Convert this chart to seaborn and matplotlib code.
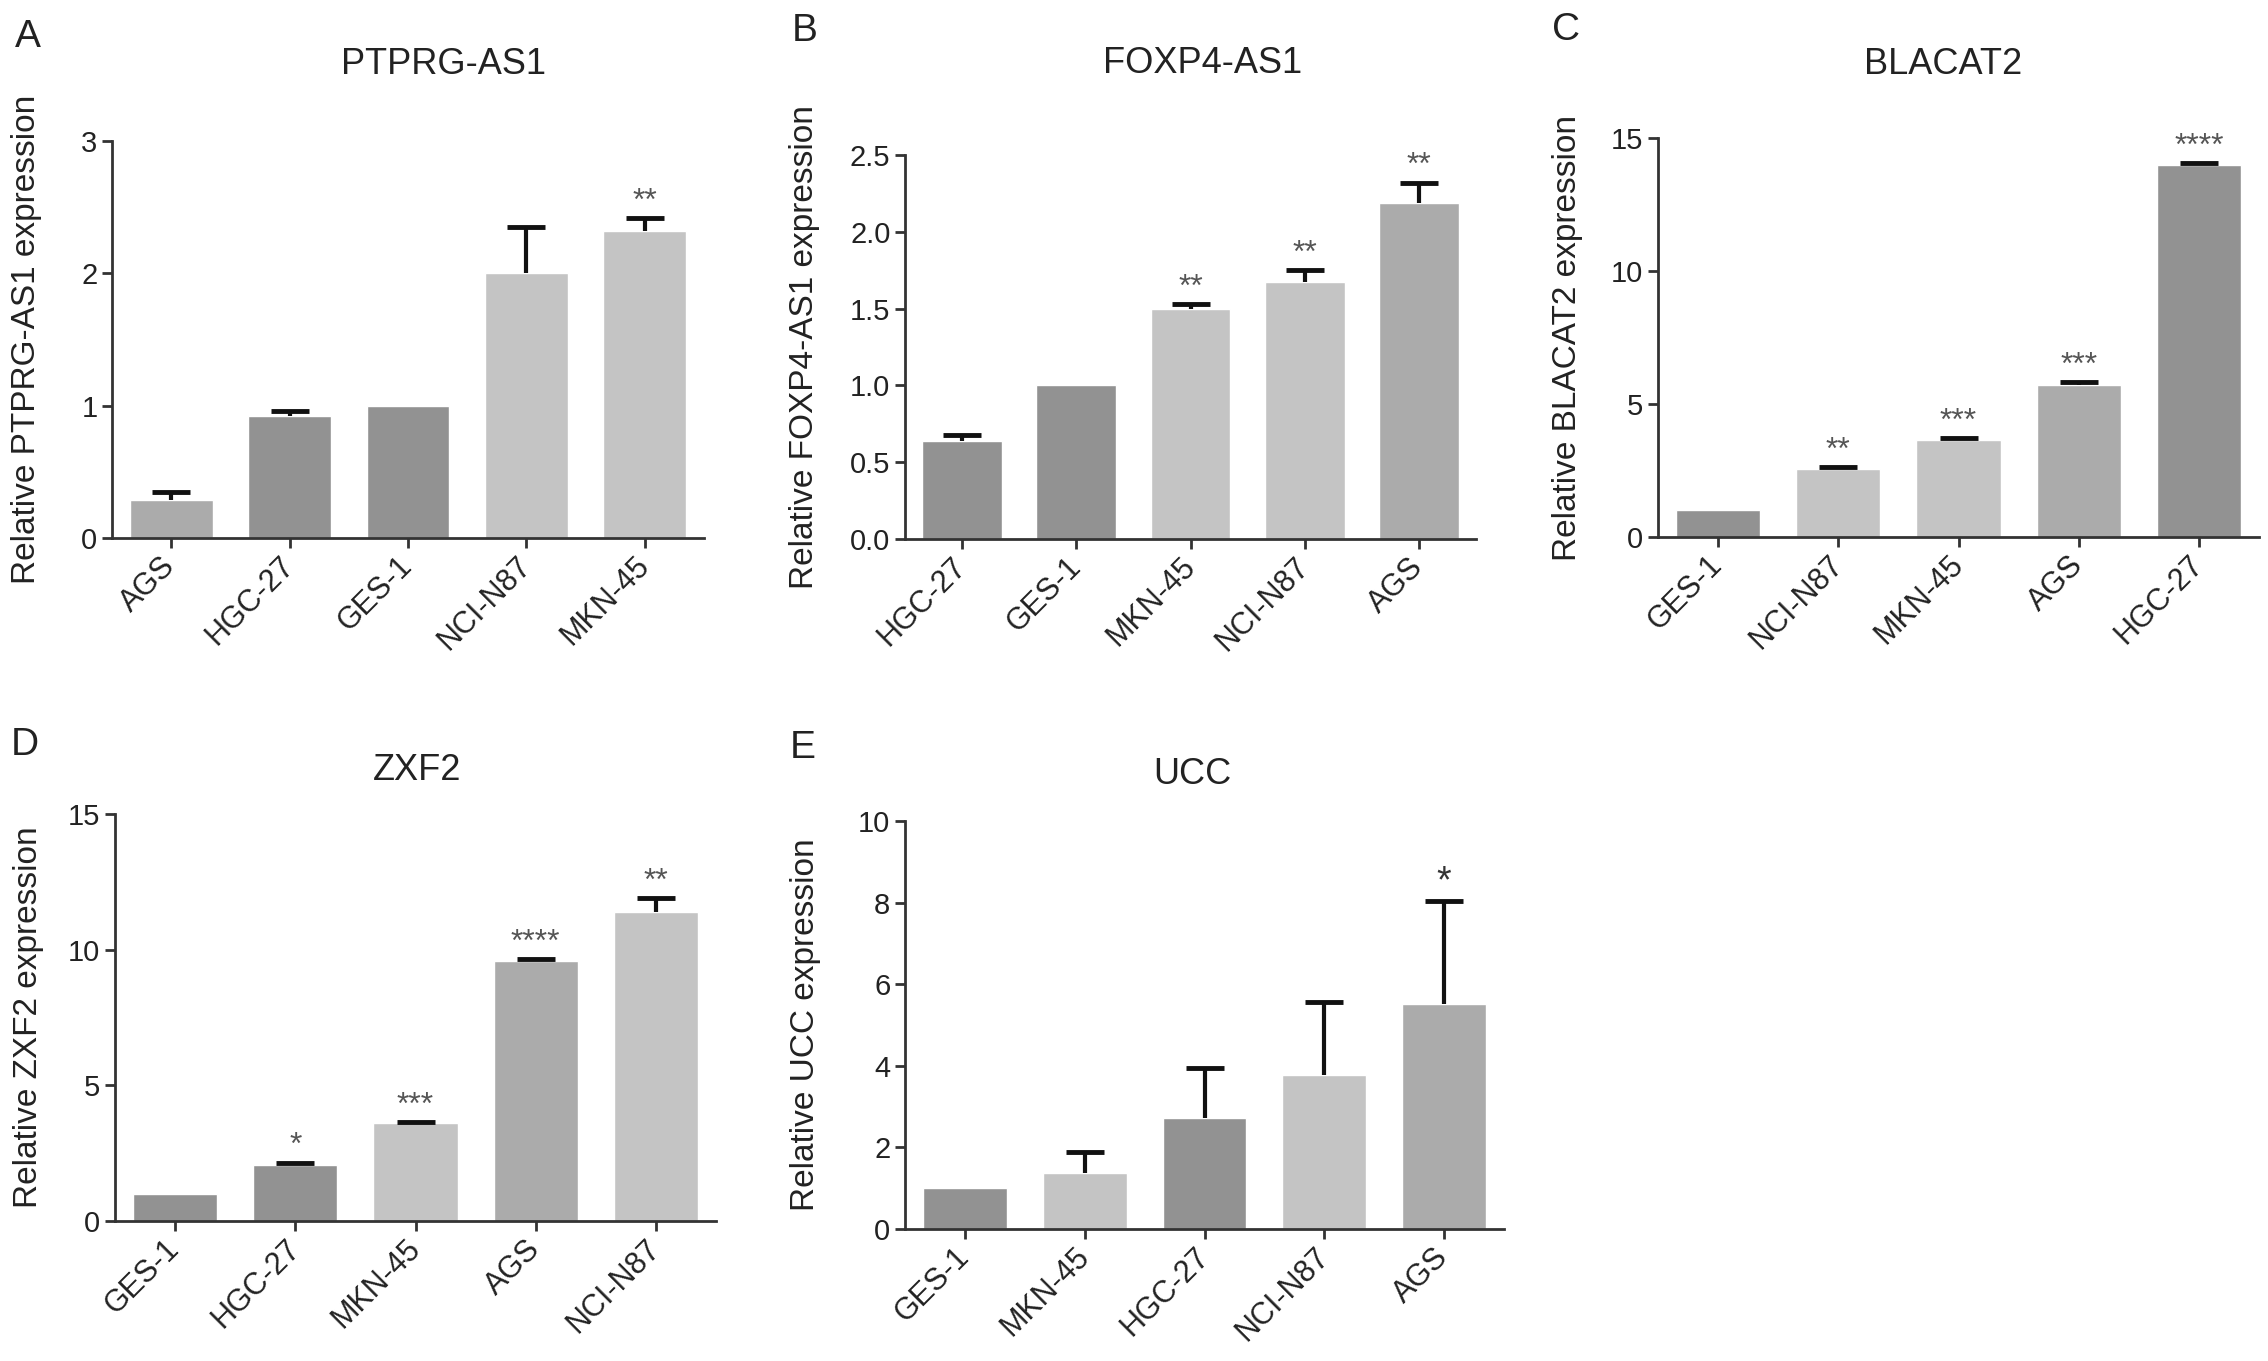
import numpy as np
import pandas as pd
import seaborn as sns
import matplotlib.pyplot as plt
from matplotlib.ticker import FormatStrFormatter

# values (mean, top of error bar, significance)
ptprg_cells = ["AGS", "HGC-27", "GES-1", "NCI-N87", "MKN-45"]
ptprg_mean = [0.29, 0.92, 1.00, 2.00, 2.32]
ptprg_top = [0.35, 0.96, 1.00, 2.35, 2.42]
ptprg_stars = ["", "", "", "", "**"]

foxp4_cells = ["HGC-27", "GES-1", "MKN-45", "NCI-N87", "AGS"]
foxp4_mean = [0.64, 1.00, 1.50, 1.67, 2.19]
foxp4_top = [0.68, 1.00, 1.53, 1.75, 2.32]
foxp4_stars = ["", "", "**", "**", "**"]

blacat_cells = ["GES-1", "NCI-N87", "MKN-45", "AGS", "HGC-27"]
blacat_mean = [1.00, 2.55, 3.65, 5.72, 14.00]
blacat_top = [1.00, 2.62, 3.72, 5.82, 14.05]
blacat_stars = ["", "**", "***", "***", "****"]

zxf2_cells = ["GES-1", "HGC-27", "MKN-45", "AGS", "NCI-N87"]
zxf2_mean = [1.00, 2.05, 3.60, 9.60, 11.40]
zxf2_top = [1.00, 2.15, 3.65, 9.65, 11.90]
zxf2_stars = ["", "*", "***", "****", "**"]

ucc_cells = ["GES-1", "MKN-45", "HGC-27", "NCI-N87", "AGS"]
ucc_mean = [1.00, 1.38, 2.72, 3.78, 5.52]
ucc_top = [1.00, 1.88, 3.95, 5.57, 8.05]
ucc_stars = ["", "", "", "", "*"]

cell_colors = {"GES-1": "#929292", "HGC-27": "#929292", "AGS": "#ababab",
               "MKN-45": "#c4c4c4", "NCI-N87": "#c4c4c4"}

W, H = 2268, 1361
sns.set_style("ticks")
plt.rcParams["font.family"] = ["Liberation Sans", "DejaVu Sans"]
plt.rcParams["text.color"] = "#222222"
plt.rcParams["axes.labelcolor"] = "#222222"
plt.rcParams["xtick.color"] = "#222222"
plt.rcParams["ytick.color"] = "#222222"

fig = plt.figure(figsize=(W / 100, H / 100), dpi=100)

panels = [
    # letter, title, cells, mean, top, stars, ymax, ystep, fmt, rect(px: l, r, b, t),
    # letter xy, title xy, ylabel right edge, star colour
    ("A", "PTPRG-AS1", ptprg_cells, ptprg_mean, ptprg_top, ptprg_stars, 3, 1, "%d",
     (112, 704, 538, 141), (28, 37), (443, 64), 42, "#555555"),
    ("B", "FOXP4-AS1", foxp4_cells, foxp4_mean, foxp4_top, foxp4_stars, 2.5, 0.5, "%.1f",
     (905, 1476, 539, 155), (805, 31), (1203, 64), 820, "#555555"),
    ("C", "BLACAT2", blacat_cells, blacat_mean, blacat_top, blacat_stars, 15, 5, "%d",
     (1658, 2259, 537, 138), (1566, 30), (1943, 64), 1583, "#555555"),
    ("D", "ZXF2", zxf2_cells, zxf2_mean, zxf2_top, zxf2_stars, 15, 5, "%d",
     (115, 716, 1221, 814), (25, 745), (417, 771), 44, "#555555"),
    ("E", "UCC", ucc_cells, ucc_mean, ucc_top, ucc_stars, 10, 2, "%d",
     (905, 1504, 1229, 821), (803, 748), (1192, 775), 821, "#333333"),
]

for (letter, title, cells, mean, top, stars, ymax, ystep, fmt,
     rect, letter_xy, title_xy, ylab_x, star_col) in panels:
    l, r, b, t = rect
    ax = fig.add_axes([l / W, 1 - b / H, (r - l) / W, (b - t) / H])
    df = pd.DataFrame({"cell": cells, "value": mean})
    sns.barplot(data=df, x="cell", y="value", hue="cell", palette=cell_colors,
                order=cells, width=0.7, errorbar=None, legend=False,
                saturation=1, ax=ax, zorder=2)

    # upper error bars only (GraphPad style), skipped where there is no spread
    pos = np.arange(len(cells))
    up = np.array(top) - np.array(mean)
    keep = up > 0
    _, caps, _ = ax.errorbar(pos[keep], np.array(mean)[keep],
                             yerr=[np.zeros(keep.sum()), up[keep]], fmt="none",
                             ecolor="#111111", elinewidth=3, capsize=14,
                             capthick=3.5, zorder=3)
    caps[0].set_visible(False)

    star_size = 27 if letter == "E" else 23
    for x, y, s in zip(pos, top, stars):
        if s:
            ax.annotate(s, (x, y), xytext=(0, 6), textcoords="offset points",
                        ha="center", va="baseline", fontsize=star_size,
                        color=star_col)

    ax.set_xlim(-0.5, len(cells) - 0.5)
    ax.set_ylim(0, ymax)
    ax.set_yticks(np.arange(0, ymax + ystep / 2, ystep))
    ax.yaxis.set_major_formatter(FormatStrFormatter(fmt))
    sns.despine(ax=ax)
    for side in ("left", "bottom"):
        ax.spines[side].set_linewidth(2)
        ax.spines[side].set_color("#333333")
    ax.tick_params(axis="both", width=2, length=7, labelsize=21, color="#333333")
    ax.tick_params(axis="x", pad=10, labelsize=22)
    plt.setp(ax.get_xticklabels(), rotation=45, ha="right", va="center",
             rotation_mode="anchor")

    ax.set_xlabel("")
    ax.set_ylabel(f"Relative {title} expression", fontsize=24)
    ax.yaxis.set_label_coords((ylab_x - l) / (r - l), 0.5)

    tx, ty = title_xy
    ax.set_title(title, fontsize=26, x=(tx - l) / (r - l), y=(b - ty) / (b - t),
                 va="center", pad=0)
    fig.text(letter_xy[0] / W, 1 - letter_xy[1] / H, letter, fontsize=28,
             ha="center", va="center")

fig.savefig("out.png", dpi=100)
